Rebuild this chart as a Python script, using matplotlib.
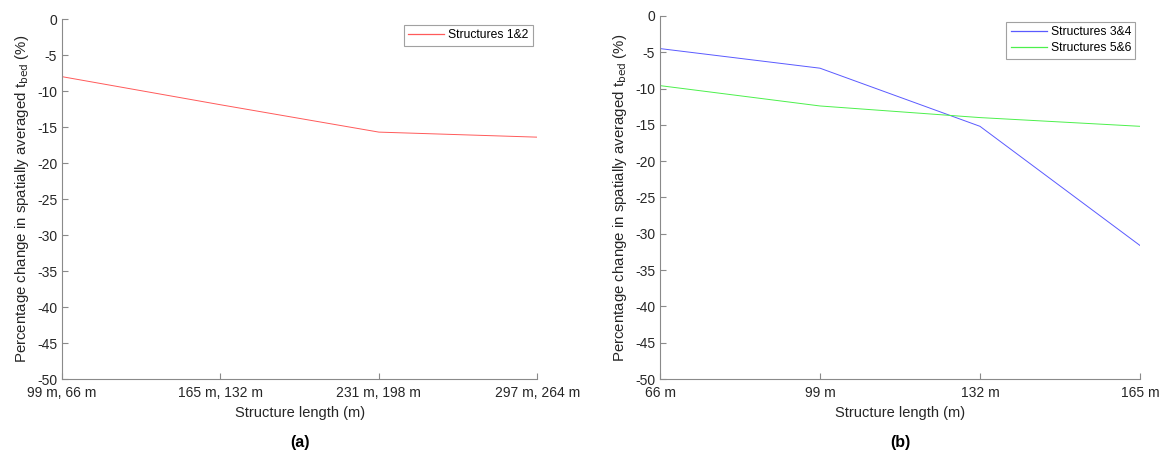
import matplotlib
matplotlib.use("Agg")
import matplotlib.pyplot as plt

plt.rcParams['font.family'] = ['Liberation Sans', 'DejaVu Sans']

# Panel (a): paired structures 1&2
labels_a = ["99 m, 66 m", "165 m, 132 m", "231 m, 198 m", "297 m, 264 m"]
s12 = [-8.0, -11.9, -15.7, -16.4]

# Panel (b): paired structures 3&4 and 5&6
labels_b = ["66 m", "99 m", "132 m", "165 m"]
s34 = [-4.5, -7.2, -15.2, -31.6]
s56 = [-9.6, -12.4, -14.0, -15.2]

yticks = list(range(0, -55, -5))

fig = plt.figure(figsize=(11.62, 4.54), dpi=100)
ax_a = fig.add_axes([0.0534, 0.165, 0.409, 0.793])
ax_b = fig.add_axes([0.568, 0.165, 0.413, 0.800])

axis_grey = "#8a8a8a"
text_col = "#262626"
ylabel = r"Percentage change in spatially averaged t$_{\mathrm{bed}}$ (%)"


def style(ax, labels):
    x = list(range(len(labels)))
    ax.set_xlim(x[0], x[-1])
    ax.set_ylim(-50, 0)
    ax.set_xticks(x)
    ax.set_xticklabels(labels)
    ax.set_yticks(yticks)
    ax.set_yticklabels([str(v) if v == 0 else "-%d" % -v for v in yticks])
    for side in ("top", "right"):
        ax.spines[side].set_visible(False)
    for side in ("left", "bottom"):
        ax.spines[side].set_color(axis_grey)
        ax.spines[side].set_linewidth(0.8)
    ax.tick_params(direction="in", length=4, width=0.8, color=axis_grey,
                   labelcolor=text_col, labelsize=10)
    ax.tick_params(axis="x", pad=5)
    ax.tick_params(axis="y", pad=3.5)
    ax.set_xlabel("Structure length (m)", fontsize=10.5, color=text_col, labelpad=4)
    ax.set_ylabel(ylabel, fontsize=10.8, color=text_col, labelpad=4)
    return x


def legend(ax, lines):
    leg = ax.legend(handles=lines, loc="upper right", bbox_to_anchor=(0.995, 0.99),
                    fontsize=8.7, frameon=True, fancybox=False, handlelength=3.0,
                    borderpad=0.35, handletextpad=0.3, borderaxespad=0.2,
                    labelspacing=0.35)
    leg.get_frame().set_edgecolor(axis_grey)
    leg.get_frame().set_linewidth(0.8)
    for src, dst in zip(lines, leg.get_lines()):
        dst.set_color(src.get_color())
        dst.set_linewidth(0.9)


xa = style(ax_a, labels_a)
la, = ax_a.plot(xa, s12, color="#ff5a5a", lw=0.7, label="Structures 1&2")
legend(ax_a, [la])

xb = style(ax_b, labels_b)
lb1, = ax_b.plot(xb, s34, color="#5a5aff", lw=0.7, label="Structures 3&4")
lb2, = ax_b.plot(xb, s56, color="#4cf04c", lw=0.7, label="Structures 5&6")
legend(ax_b, [lb1, lb2])

fig.text(0.2578, 0.025, "(a)", ha="center", va="center", fontsize=11.5, fontweight="bold")
fig.text(0.7745, 0.025, "(b)", ha="center", va="center", fontsize=11.5, fontweight="bold")

fig.savefig("out.png", dpi=100)
